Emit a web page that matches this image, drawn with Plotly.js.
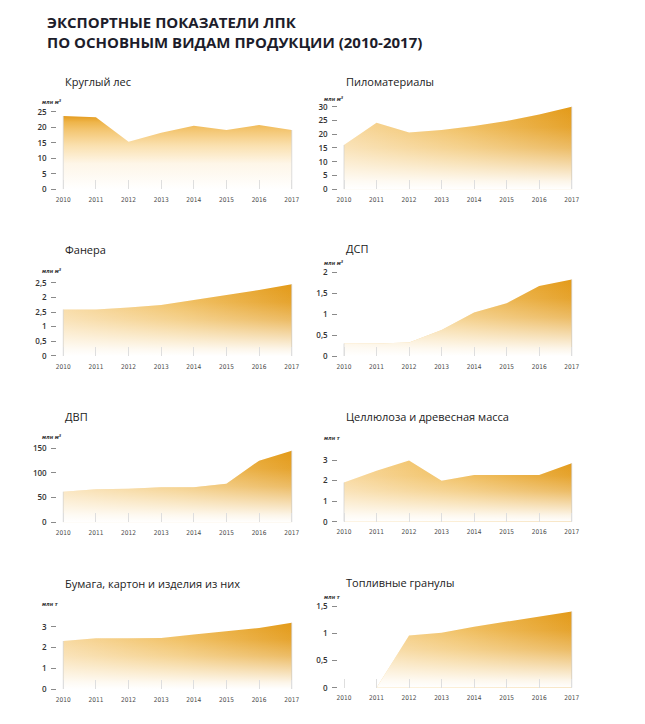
<!DOCTYPE html>
<html>
<head>
<meta charset="utf-8">
<script src="https://cdn.plot.ly/plotly-3.0.1.min.js"></script>
<style>
  html, body { margin: 0; padding: 0; background: #ffffff; }
  #chart { width: 645px; height: 724px; }
</style>
</head>
<body>
<div id="chart"></div>
<script>
// ---------- DATA ----------
const years = [2010, 2011, 2012, 2013, 2014, 2015, 2016, 2017];
const yearLabels = ['2010', '2011', '2012', '2013', '2014', '2015', '2016', '2017'];

const roundwood     = [23.6, 23.2, 15.3, 18.2, 20.5, 19.1, 20.7, 19.1];
const sawnwood      = [16.1, 24.2, 20.6, 21.5, 23.0, 24.8, 27.2, 30.0];
const plywood       = [1.59, 1.59, 1.65, 1.74, 1.91, 2.08, 2.25, 2.45];
const particleboard = [0.30, 0.30, 0.32, 0.62, 1.04, 1.26, 1.67, 1.83];
const fibreboard    = [62, 67, 68, 71, 71, 78, 125, 145];
const pulp          = [1.91, 2.48, 2.97, 1.99, 2.27, 2.27, 2.27, 2.84];
const paper         = [2.31, 2.44, 2.44, 2.46, 2.63, 2.79, 2.94, 3.19];
const pellets       = [0, 0, 0.96, 1.01, 1.12, 1.21, 1.30, 1.40];

const roundwoodTicks = [0, 5, 10, 15, 20, 25];
const roundwoodTickText = ['0', '5', '10', '15', '20', '25'];
const sawnwoodTicks = [0, 5, 10, 15, 20, 25, 30];
const sawnwoodTickText = ['0', '5', '10', '15', '20', '25', '30'];
const plywoodTicks = [0, 0.5, 1, 1.5, 2, 2.5];
const plywoodTickText = ['0', '0,5', '1', '2,5', '2', '2,5'];
const particleTicks = [0, 0.5, 1, 1.5, 2];
const particleTickText = ['0', '0,5', '1', '1,5', '2'];
const fibreTicks = [0, 50, 100, 150];
const fibreTickText = ['0', '50', '100', '150'];
const pulpTicks = [0, 1, 2, 3];
const pulpTickText = ['0', '1', '2', '3'];
const paperTicks = [0, 1, 2, 3];
const paperTickText = ['0', '1', '2', '3'];
const pelletTicks = [0, 0.5, 1, 1.5];
const pelletTickText = ['0', '0,5', '1', '1,5'];

const titles = ['Круглый лес', 'Пиломатериалы', 'Фанера', 'ДСП', 'ДВП',
                'Целлюлоза и древесная масса', 'Бумага, картон и изделия из них', 'Топливные гранулы'];
const UNIT_M3 = 'млн м<sup>3</sup>';
const UNIT_T = 'млн т';

// ---------- LAYOUT GEOMETRY (pixels) ----------
const W = 645, H = 724;
const cols = {
  L: { x0: 57.3, x2010: 63.3, x2017: 291.7, unitX: 40, titleX: 63 },
  R: { x0: 338.3, x2010: 344, x2017: 571.7, unitX: 322, titleX: 344 }
};
const panels = [
  { data: roundwood, tv: roundwoodTicks, tt: roundwoodTickText, unit: UNIT_M3, col: 'L', zeroPx: 189.3, topPx: 111.7, titleY: 81.5, unitY: 101, mode: 'vertical' },
  { data: sawnwood, tv: sawnwoodTicks, tt: sawnwoodTickText, unit: UNIT_M3, col: 'R', zeroPx: 189.3, topPx: 106.7, titleY: 81, unitY: 98.5, mode: 'diag' },
  { data: plywood, tv: plywoodTicks, tt: plywoodTickText, unit: UNIT_M3, col: 'L', zeroPx: 356, topPx: 282.7, titleY: 249, unitY: 270.5, mode: 'diag' },
  { data: particleboard, tv: particleTicks, tt: particleTickText, unit: UNIT_M3, col: 'R', zeroPx: 356, topPx: 272.3, titleY: 248, unitY: 262.5, mode: 'diag' },
  { data: fibreboard, tv: fibreTicks, tt: fibreTickText, unit: UNIT_M3, col: 'L', zeroPx: 522.3, topPx: 448.3, titleY: 416, unitY: 436, mode: 'diag' },
  { data: pulp, tv: pulpTicks, tt: pulpTickText, unit: UNIT_T, col: 'R', zeroPx: 521.7, topPx: 460, titleY: 416, unitY: 438, mode: 'diag' },
  { data: paper, tv: paperTicks, tt: paperTickText, unit: UNIT_T, col: 'L', zeroPx: 689, topPx: 626.7, titleY: 583, unitY: 604, mode: 'diag' },
  { data: pellets, tv: pelletTicks, tt: pelletTickText, unit: UNIT_T, col: 'R', zeroPx: 687.7, topPx: 606, titleY: 582, unitY: 596.5, mode: 'diag' }
];

const xFont = { family: '"Liberation Sans Narrow", "DejaVu Sans Condensed", "Arial Narrow", sans-serif', size: 6.5, color: '#4a4a4a' };
const yFont = { family: '"Open Sans", "DejaVu Sans", sans-serif', size: 8, color: '#333333', weight: 600 };

const traces = [];
const layout = {
  width: W, height: H,
  margin: { l: 0, r: 0, t: 0, b: 0 },
  paper_bgcolor: '#ffffff',
  plot_bgcolor: 'rgba(0,0,0,0)',
  showlegend: false,
  font: { family: '"Open Sans", sans-serif', color: '#222' },
  title: {
    text: 'ЭКСПОРТНЫЕ ПОКАЗАТЕЛИ ЛПК<br>ПО ОСНОВНЫМ ВИДАМ ПРОДУКЦИИ (2010-2017)',
    x: 47 / W, xanchor: 'left', xref: 'paper',
    y: 1 - 28 / H, yanchor: 'middle', yref: 'container',
    font: { family: '"Open Sans", sans-serif', size: 15, color: '#1d1d2b', weight: 700 }
  },
  annotations: []
};

const hGradScale = [[0, '#f7d596'], [0.5, '#f0bc58'], [1, '#e39a18']];
const whiteOverlay = [[0, 'rgba(255,255,255,1)'], [0.1, 'rgba(255,255,255,0.9)'], [0.3, 'rgba(255,255,255,0.62)'],
                      [0.5, 'rgba(255,255,255,0.34)'], [0.75, 'rgba(255,255,255,0.1)'], [1, 'rgba(255,255,255,0)']];
const vGradScale = [[0, '#ffffff'], [0.35, '#fef6e8'], [0.6, '#fae0ae'], [0.8, '#f4c774'], [0.92, '#eeb449'], [1, '#e49b1e']];

panels.forEach((p, i) => {
  const s = i === 0 ? '' : String(i + 1);
  const c = cols[p.col];
  const ppy = (c.x2017 - c.x2010) / (years[years.length - 1] - years[0]);
  const xr = [years[0] - (c.x2010 - c.x0) / ppy, years[years.length - 1] + 3 / ppy];
  const xdom = [c.x0 / W, (c.x2017 + 3) / W];
  const topTickVal = p.tv[p.tv.length - 1];
  const ppu = (p.zeroPx - p.topPx) / topTickVal;
  const dmax = Math.max(...p.data);
  const rmax = Math.max(topTickVal, dmax) * 1.04;
  const ydom = [1 - p.zeroPx / H, 1 - (p.zeroPx - rmax * ppu) / H];

  layout['xaxis' + s] = {
    domain: xdom, range: xr, anchor: 'y' + s,
    showgrid: false, zeroline: false, showline: false,
    tickmode: 'array', tickvals: years, ticktext: yearLabels,
    ticks: 'inside', ticklen: 9, tickwidth: 1, tickcolor: '#dedede',
    ticklabelstandoff: 5,
    tickfont: xFont, fixedrange: true
  };
  layout['yaxis' + s] = {
    domain: ydom, range: [0, rmax], anchor: 'x' + s,
    showgrid: false, zeroline: false, showline: false,
    tickmode: 'array', tickvals: p.tv, ticktext: p.tt,
    ticks: 'outside', ticklen: 5, tickwidth: 1, tickcolor: '#8a8a8a',
    ticklabelstandoff: 3,
    tickfont: yFont, fixedrange: true
  };

  const base = { type: 'scatter', x: years, y: p.data, xaxis: 'x' + s, yaxis: 'y' + s,
                 mode: 'lines', line: { width: 0, color: 'rgba(0,0,0,0)' }, fill: 'tozeroy', hoverinfo: 'skip' };
  if (p.mode === 'vertical') {
    traces.push(Object.assign({}, base, {
      fillgradient: { type: 'vertical', start: 0, stop: dmax, colorscale: vGradScale }
    }));
  } else {
    traces.push(Object.assign({}, base, {
      fillgradient: { type: 'horizontal', start: years[0], stop: years[years.length - 1], colorscale: hGradScale }
    }));
    traces.push(Object.assign({}, base, {
      fillgradient: { type: 'vertical', start: 0, stop: dmax, colorscale: whiteOverlay }
    }));
  }
  // faint edge lines at first/last year
  const n = years.length - 1;
  traces.push({
    type: 'scatter', xaxis: 'x' + s, yaxis: 'y' + s, mode: 'lines', hoverinfo: 'skip',
    x: [years[0], years[0], null, years[n], years[n]],
    y: [0, p.data[0], null, 0, p.data[n]],
    line: { color: 'rgba(205,205,205,0.55)', width: 1.2 }
  });

  layout.annotations.push({
    text: titles[i], xref: 'paper', yref: 'paper',
    x: c.titleX / W, y: 1 - p.titleY / H, xanchor: 'left', yanchor: 'middle', showarrow: false,
    font: { family: '"Open Sans", sans-serif', size: 11, color: '#222222' }
  });
  layout.annotations.push({
    text: '<i>' + p.unit + '</i>', xref: 'paper', yref: 'paper',
    x: c.unitX / W, y: 1 - p.unitY / H, xanchor: 'left', yanchor: 'middle', showarrow: false,
    font: { family: '"Liberation Sans Narrow", "DejaVu Sans Condensed", sans-serif', size: 5.5, color: '#333333', weight: 700 }
  });
});

Plotly.newPlot('chart', traces, layout, { staticPlot: true, displayModeBar: false });
</script>
</body>
</html>
